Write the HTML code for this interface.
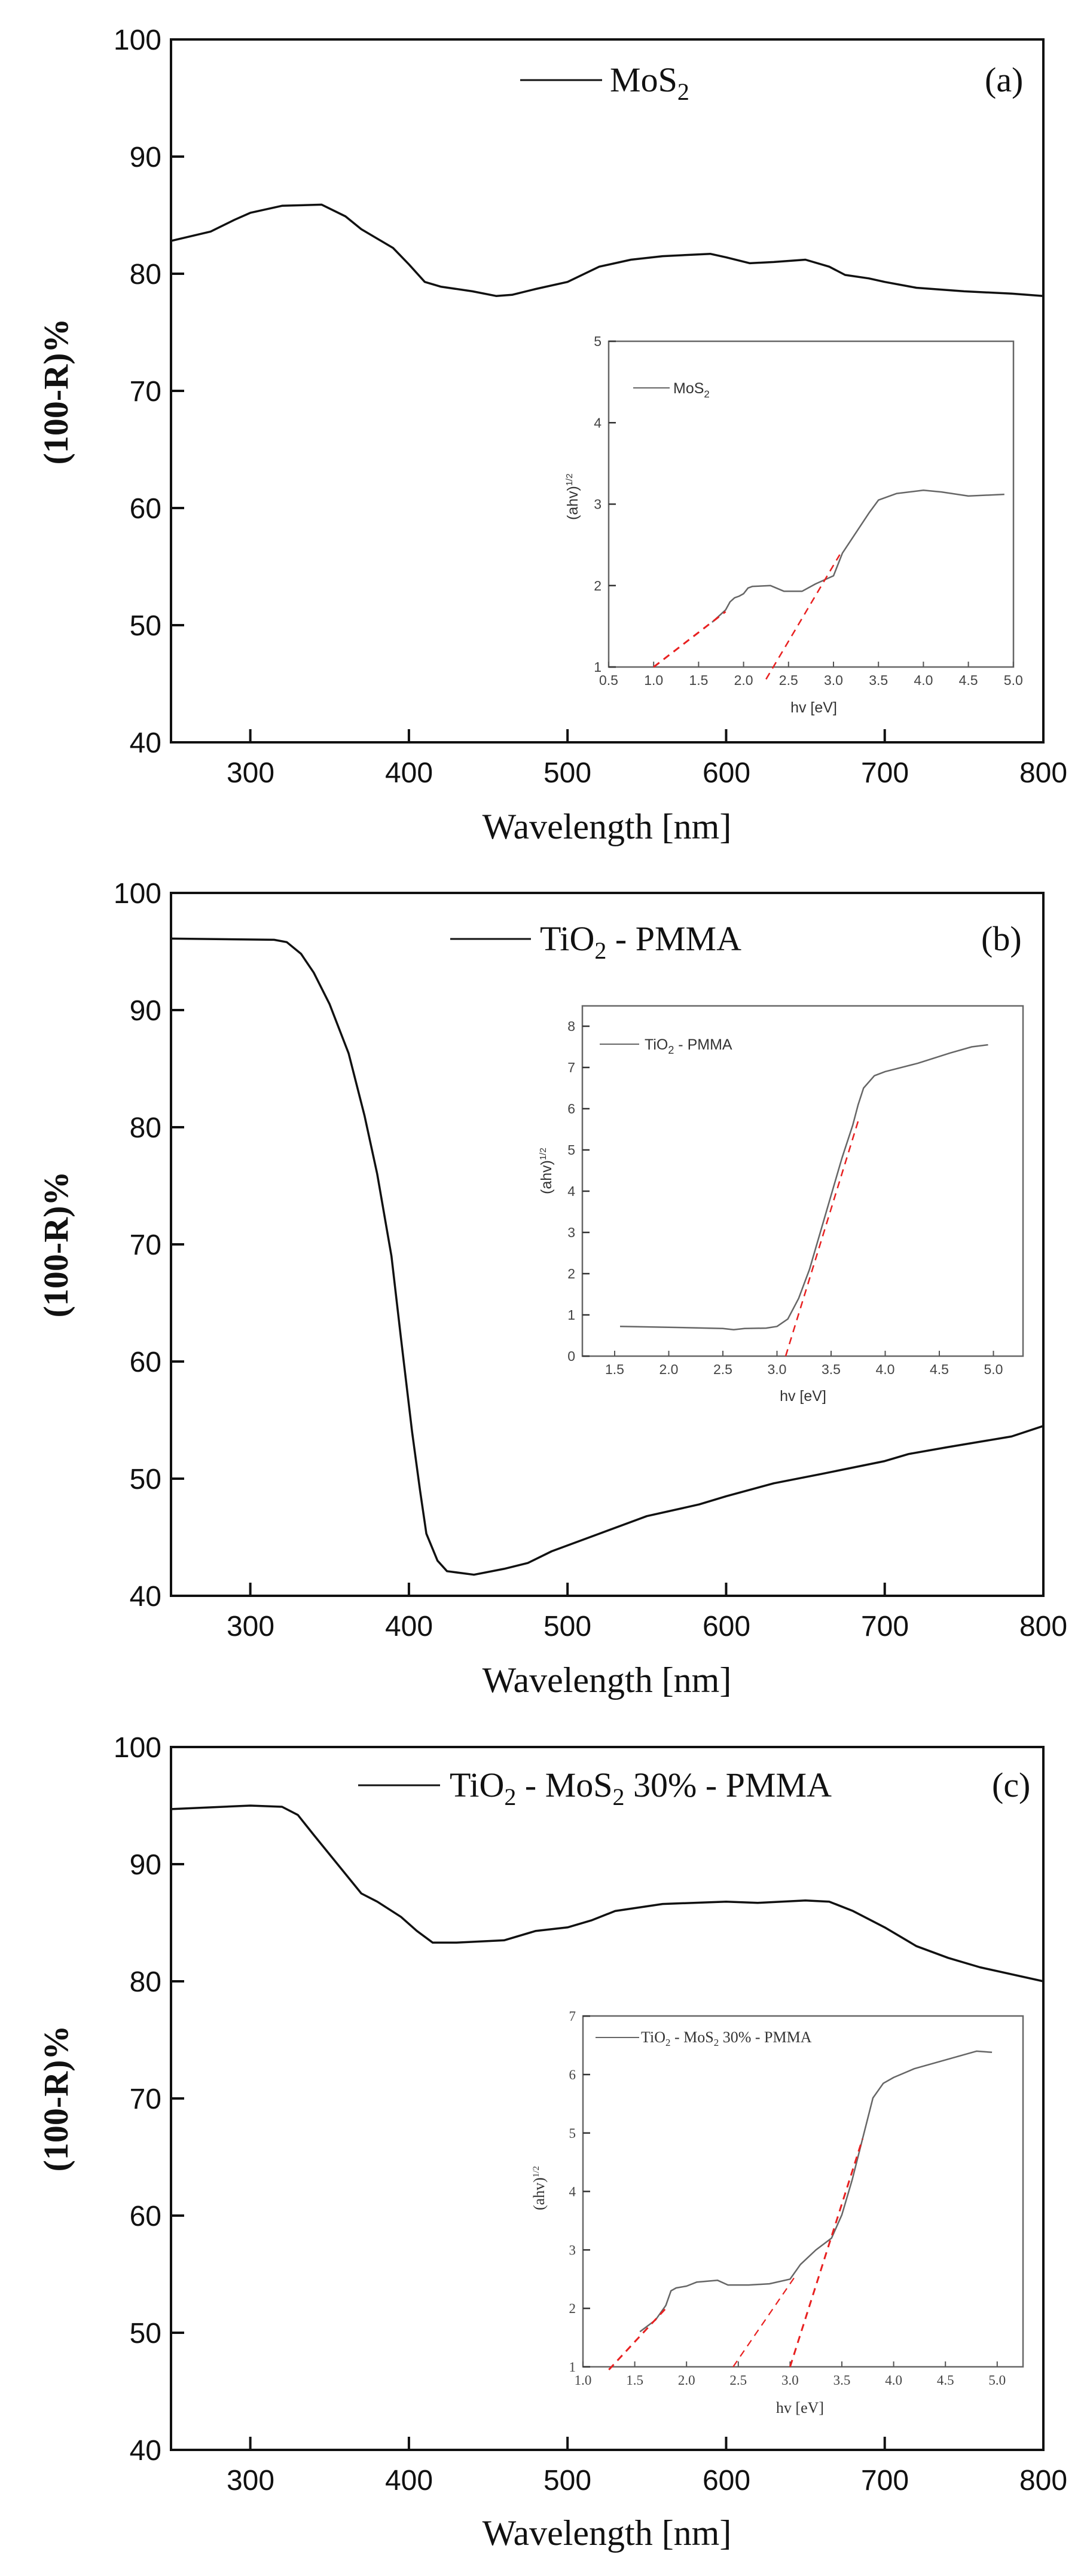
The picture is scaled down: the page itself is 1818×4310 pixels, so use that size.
<!DOCTYPE html>
<html><head><meta charset="utf-8"><style>
html,body{margin:0;padding:0;background:#fff}
svg{display:block}
.tk{font-family:"Liberation Sans",Arial,sans-serif;font-size:48px;fill:#111}
.lab{font-family:"Liberation Serif","Times New Roman",serif;font-size:60px;fill:#111}
.leg{font-family:"Liberation Serif","Times New Roman",serif;font-size:58px;fill:#111}
.itk{font-family:"Liberation Sans",Arial,sans-serif;font-size:23px;fill:#444}
.itks{font-family:"Liberation Serif",serif;font-size:23px;fill:#444}
.ilab{font-family:"Liberation Sans",Arial,sans-serif;font-size:25px;fill:#333}
.ilabs{font-family:"Liberation Serif",serif;font-size:26px;fill:#333}
</style></head><body>
<svg id="s" width="1818" height="4310" viewBox="0 0 1818 4310" xmlns="http://www.w3.org/2000/svg">
<rect width="1818" height="4310" fill="#fff"/>
<g id="g"></g>
<g class="tk" text-anchor="end">
<text x="270" y="83">100</text><text x="270" y="279">90</text><text x="270" y="475">80</text><text x="270" y="671">70</text><text x="270" y="867">60</text><text x="270" y="1063">50</text><text x="270" y="1259">40</text>
<text x="270" y="1511">100</text><text x="270" y="1707">90</text><text x="270" y="1903">80</text><text x="270" y="2099">70</text><text x="270" y="2295">60</text><text x="270" y="2491">50</text><text x="270" y="2687">40</text>
<text x="270" y="2940">100</text><text x="270" y="3136">90</text><text x="270" y="3332">80</text><text x="270" y="3528">70</text><text x="270" y="3724">60</text><text x="270" y="3920">50</text><text x="270" y="4116">40</text>
</g>
<g class="tk" text-anchor="middle">
<text x="419" y="1309">300</text><text x="684" y="1309">400</text><text x="949" y="1309">500</text><text x="1215" y="1309">600</text><text x="1480" y="1309">700</text><text x="1745" y="1309">800</text>
<text x="419" y="2737">300</text><text x="684" y="2737">400</text><text x="949" y="2737">500</text><text x="1215" y="2737">600</text><text x="1480" y="2737">700</text><text x="1745" y="2737">800</text>
<text x="419" y="4166">300</text><text x="684" y="4166">400</text><text x="949" y="4166">500</text><text x="1215" y="4166">600</text><text x="1480" y="4166">700</text><text x="1745" y="4166">800</text>
</g>
<g class="lab" text-anchor="middle">
<text x="1015" y="1403">Wavelength [nm]</text>
<text x="1015" y="2831">Wavelength [nm]</text>
<text x="1015" y="4258">Wavelength [nm]</text>
<text transform="translate(113,655) rotate(-90)" font-weight="bold" font-size="58">(100-R)%</text>
<text transform="translate(113,2082) rotate(-90)" font-weight="bold" font-size="58">(100-R)%</text>
<text transform="translate(113,3511) rotate(-90)" font-weight="bold" font-size="58">(100-R)%</text>
</g>
<line x1="870" y1="134" x2="1007" y2="134" stroke="#111" stroke-width="3"/>
<text class="leg" x="1020" y="153">MoS<tspan font-size="40" dy="14">2</tspan></text>
<text class="leg" x="1647" y="153" font-size="62">(a)</text>
<line x1="753" y1="1571" x2="888" y2="1571" stroke="#111" stroke-width="3"/>
<text class="leg" x="903" y="1590">TiO<tspan font-size="40" dy="14">2</tspan><tspan dy="-14"> - PMMA</tspan></text>
<text class="leg" x="1641" y="1590" font-size="62">(b)</text>
<line x1="599" y1="2987" x2="736" y2="2987" stroke="#111" stroke-width="3"/>
<text class="leg" x="752" y="3006">TiO<tspan font-size="40" dy="14">2</tspan><tspan dy="-14"> - MoS</tspan><tspan font-size="40" dy="14">2</tspan><tspan dy="-14"> 30% - PMMA</tspan></text>
<text class="leg" x="1659" y="3006" font-size="62">(c)</text>
<line x1="1059" y1="649" x2="1120" y2="649" stroke="#666" stroke-width="2"/>
<text class="ilab" x="1126" y="658" font-size="24">MoS<tspan font-size="17" dy="7">2</tspan></text>
<text class="ilab" transform="translate(966,870) rotate(-90)" font-size="22">(ahv)<tspan font-size="15" dy="-9">1/2</tspan></text>
<text class="ilab" x="1361" y="1192" text-anchor="middle" font-size="25">hv [eV]</text>
<line x1="1003" y1="1747" x2="1069" y2="1747" stroke="#666" stroke-width="2"/>
<text class="ilab" x="1078" y="1756" font-size="27">TiO<tspan font-size="18" dy="7">2</tspan><tspan dy="-7"> - PMMA</tspan></text>
<text class="ilab" transform="translate(922,1998) rotate(-90)" font-size="22">(ahv)<tspan font-size="15" dy="-9">1/2</tspan></text>
<text class="ilab" x="1343" y="2344" text-anchor="middle" font-size="27">hv [eV]</text>
<line x1="996" y1="3409" x2="1069" y2="3409" stroke="#666" stroke-width="2"/>
<text class="ilabs" x="1072" y="3417" font-size="25">TiO<tspan font-size="17" dy="6">2</tspan><tspan dy="-6"> - MoS</tspan><tspan font-size="17" dy="6">2</tspan><tspan dy="-6"> 30% - PMMA</tspan></text>
<text class="ilabs" transform="translate(910,3698) rotate(-90)" font-size="24">(ahv)<tspan font-size="15" dy="-9">1/2</tspan></text>
<text class="ilabs" x="1338" y="4037" text-anchor="middle" font-size="27">hv [eV]</text>
</svg>
<script>
var g=document.getElementById('g'),NS='http://www.w3.org/2000/svg';
function el(t,a){var e=document.createElementNS(NS,t);for(var k in a)e.setAttribute(k,a[k]);g.appendChild(e);return e;}
function txt(x,y,s,cls,anc){var e=el('text',{x:x,y:y,'class':cls,'text-anchor':anc});e.textContent=s;}
function panel(top,data){
 var L=286,R=1745,B=top+1176;
 var X=function(w){return L+(w-250)/550*(R-L)},Y=function(v){return top+(100-v)/60*(B-top)};
 el('rect',{x:L,y:top,width:R-L,height:B-top,fill:'none',stroke:'#111','stroke-width':4});
 for(var w=300;w<=700;w+=100)el('line',{x1:X(w),y1:B,x2:X(w),y2:B-22,stroke:'#111','stroke-width':4});
 for(var v=50;v<=90;v+=10)el('line',{x1:L,y1:Y(v),x2:L+22,y2:Y(v),stroke:'#111','stroke-width':4});
 var p=[];for(var i=0;i<data.length;i+=2)p.push(X(data[i]).toFixed(1)+','+Y(data[i+1]).toFixed(1));
 el('polyline',{points:p.join(' '),fill:'none',stroke:'#111','stroke-width':3.5,'stroke-linejoin':'round'});
}
function inset(o){
 var X=function(e){return o.x0+(e-o.e0)*o.ex},Y=function(v){return o.yb-(v-o.v0)*o.vy};
 el('rect',{x:o.L,y:o.T,width:o.R-o.L,height:o.yb-o.T,fill:'#fff',stroke:'#666','stroke-width':2.5});
 o.xt.forEach(function(e){el('line',{x1:X(e),y1:o.yb,x2:X(e),y2:o.yb-9,stroke:'#555','stroke-width':2});txt(X(e),o.yb+30,e.toFixed(1),o.cls,'middle');});
 o.yt.forEach(function(v){el('line',{x1:o.L,y1:Y(v),x2:o.L+12,y2:Y(v),stroke:'#333','stroke-width':2.5});txt(o.L-12,Y(v)+8,String(v),o.cls,'end');});
 var p=[];for(var i=0;i<o.d.length;i+=2)p.push(X(o.d[i]).toFixed(1)+','+Y(o.d[i+1]).toFixed(1));
 el('polyline',{points:p.join(' '),fill:'none',stroke:'#666','stroke-width':2.5,'stroke-linejoin':'round'});
 o.red.forEach(function(r){el('line',{x1:X(r[0]),y1:Y(r[1]),x2:X(r[2]),y2:Y(r[3]),stroke:'#e82020','stroke-width':r[4]||2.5,'stroke-dasharray':'12,9'});});
}
panel(66,[250,82.8,275,83.6,290,84.6,300,85.2,320,85.8,345,85.9,360,84.9,370,83.8,390,82.2,400,80.8,410,79.3,420,78.9,440,78.5,455,78.1,465,78.2,480,78.7,500,79.3,520,80.6,540,81.2,560,81.5,590,81.7,600,81.4,615,80.9,630,81.0,650,81.2,665,80.6,675,79.9,690,79.6,700,79.3,720,78.8,750,78.5,780,78.3,800,78.1]);
panel(1494,[250,96.1,315,96,323,95.8,332,94.8,340,93.2,350,90.5,362,86.3,372,81,380,76,389,69,395,62,402,54,407,49,411,45.3,418,43,424,42.1,441,41.8,460,42.3,475,42.8,490,43.8,520,45.3,550,46.8,583,47.8,600,48.5,630,49.6,660,50.4,700,51.5,715,52.1,740,52.7,780,53.6,800,54.5]);
panel(2923,[250,94.7,300,95,320,94.9,330,94.2,340,92.5,355,90,370,87.5,380,86.8,395,85.5,405,84.3,415,83.3,430,83.3,460,83.5,480,84.3,500,84.6,515,85.2,530,86,560,86.6,600,86.8,620,86.7,650,86.9,665,86.8,680,86,700,84.6,720,83,740,82,760,81.2,800,80]);
inset({L:1018,R:1695,T:571,yb:1116,x0:1018,e0:0.5,ex:150.4,v0:1,vy:136.25,cls:'itk',
 xt:[0.5,1,1.5,2,2.5,3,3.5,4,4.5,5],yt:[1,2,3,4,5],
 d:[1.65,1.55,1.8,1.7,1.85,1.8,1.9,1.85,1.95,1.87,2.0,1.9,2.05,1.97,2.1,1.99,2.3,2.0,2.45,1.93,2.65,1.93,2.8,2.02,3.0,2.12,3.1,2.4,3.25,2.65,3.4,2.9,3.5,3.05,3.7,3.13,4.0,3.17,4.2,3.15,4.5,3.1,4.9,3.12],
 red:[[1.0,1.0,1.8,1.68,3],[2.25,0.85,3.07,2.38,2.5]]});
inset({L:974,R:1711,T:1683,yb:2269,x0:1028,e0:1.5,ex:181,v0:0,vy:69,cls:'itk',
 xt:[1.5,2,2.5,3,3.5,4,4.5,5],yt:[0,1,2,3,4,5,6,7,8],
 d:[1.55,0.72,2.0,0.7,2.5,0.67,2.6,0.64,2.7,0.67,2.9,0.68,3.0,0.72,3.1,0.9,3.2,1.4,3.3,2.1,3.4,3.0,3.5,3.9,3.6,4.8,3.7,5.6,3.75,6.1,3.8,6.5,3.9,6.8,4.0,6.9,4.3,7.1,4.6,7.35,4.8,7.5,4.95,7.55],
 red:[[3.08,0,3.75,5.7,2.5]]});
inset({L:975,R:1711,T:3373,yb:3960,x0:975,e0:1.0,ex:173.2,v0:1,vy:97.8,cls:'itks',
 xt:[1,1.5,2,2.5,3,3.5,4,4.5,5],yt:[1,2,3,4,5,6,7],
 d:[1.55,1.6,1.7,1.8,1.8,2.05,1.85,2.3,1.9,2.35,2.0,2.38,2.1,2.45,2.3,2.48,2.4,2.4,2.6,2.4,2.8,2.42,3.0,2.5,3.1,2.75,3.25,3.0,3.4,3.2,3.5,3.6,3.6,4.2,3.7,4.9,3.8,5.6,3.9,5.85,4.0,5.95,4.2,6.1,4.5,6.25,4.8,6.4,4.95,6.38],
 red:[[1.25,0.95,1.8,2.0,3],[2.45,1,3.05,2.55,2.2],[3.0,1,3.7,4.9,3]]});
</script>
</body></html>
